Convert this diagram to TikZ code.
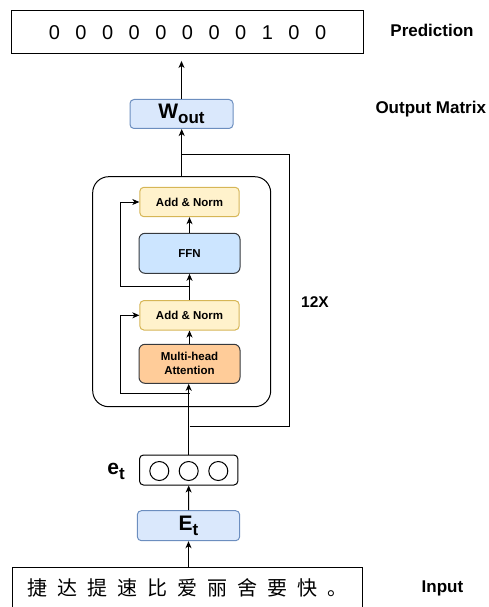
\documentclass[tikz,border=0pt]{standalone}
\usepackage{fontspec}
\setmainfont{Liberation Sans}
\newfontfamily\cjkfont[LetterSpace=50]{Noto Sans CJK SC}
\usepackage{xcolor}
\usetikzlibrary{arrows.meta,positioning,calc}

\definecolor{matFill}{HTML}{DAE8FC}
\definecolor{matDraw}{HTML}{6C8EBF}
\definecolor{normFill}{HTML}{FFF2CC}
\definecolor{normDraw}{HTML}{D6B656}
\definecolor{ffnFill}{HTML}{CCE5FF}
\definecolor{attFill}{HTML}{FFCC99}
\definecolor{darkDraw}{HTML}{36393D}

\newcommand{\bigsub}[2]{#1\raisebox{-5bp}{\fontsize{17bp}{17bp}\selectfont #2}}

\begin{document}
\begin{tikzpicture}[
    x=1bp, y=-1bp,
    line width=1bp,
    every node/.style={inner sep=0pt},
    sidelbl/.style={font=\fontsize{17bp}{20bp}\selectfont\bfseries},
    bigtxt/.style={font=\fontsize{21bp}{24bp}\selectfont\bfseries},
    smalltxt/.style={font=\fontsize{11.5bp}{14bp}\selectfont\bfseries, align=center},
    seqbox/.style={rectangle, draw=black, minimum width=351bp, minimum height=42.5bp},
    matbox/.style={rectangle, rounded corners=4bp, draw=matDraw, fill=matFill,
      minimum width=103bp, minimum height=29bp, bigtxt},
    normbox/.style={rectangle, rounded corners=4bp, draw=normDraw, fill=normFill,
      minimum width=99.3bp, minimum height=29.4bp, smalltxt},
    layerbox/.style={rectangle, rounded corners=6bp, draw=darkDraw,
      minimum width=101bp, minimum height=40bp, smalltxt},
    arr/.style={-{Stealth[length=7bp,width=6bp,inset=2bp]}}
  ]
    \useasboundingbox (0,0) rectangle (489,607);

    % ── Output (top) ──
    \node[seqbox] (pred) at (187.5,32.2)
      {\fontsize{20bp}{24bp}\selectfont\addfontfeature{LetterSpace=77.5}00000000100\hspace{-15.5bp}};
    \node[matbox] (wout) at (181.5,114) {\bigsub{W}{out}};

    \draw[arr, shorten >=7bp] (wout.north) -- (wout.north |- pred.south);

    % ── Encoder block ──
    \node[rectangle, rounded corners=16bp, draw, minimum width=178bp, minimum height=230bp]
      (block) at (181.7,291.7) {};
    \node[normbox] (an1) at (189.5,202) {Add \& Norm};
    \node[layerbox, fill=ffnFill] (ffn) at (189.5,253.3) {FFN};
    \node[normbox] (an2) at (189.5,315.3) {Add \& Norm};
    \node[layerbox, fill=attFill, minimum height=39bp] (mha) at (189.5,363.8)
      {Multi-head\\Attention};

    \draw[arr] (mha.north) -- (an2.south);
    \draw[arr] (an2.north) -- (ffn.south);
    \draw[arr] (ffn.north) -- (an1.south);
    \draw[arr] (block.north) -- (block.north |- wout.south);

    % residual paths
    \coordinate (lx) at (120.7,0);
    \coordinate (r1) at (189.5,393.3);
    \coordinate (r2) at (189.5,286);
    \draw[arr] (r1) -- (r1 -| lx) |- (an2.west);
    \draw[arr] (r2) -- (r2 -| lx) |- (an1.west);

    % repeat loop
    \coordinate (lpbot) at (189.5,426);
    \coordinate (lpright) at (289,0);
    \coordinate (lptop) at (181.7,155);
    \draw (lpbot) -- (lpbot -| lpright) -- (lpright |- lptop) -- (lptop);

    % ── Input (bottom) ──
    \node[seqbox, minimum width=350bp, minimum height=41bp] (inseq) at (187.7,587.5)
      {\cjkfont\fontsize{20bp}{24bp}\selectfont 捷达提速比爱丽舍要快。\hspace{-10bp}};
    \node[matbox, minimum width=102.3bp, minimum height=30bp] (emb) at (188.5,525.7) {\bigsub{E}{t}};
    \node[rectangle, rounded corners=4bp, draw, minimum width=98.4bp, minimum height=30bp]
      (vec) at (188.7,470) {};
    \foreach \i/\cx in {1/159.3, 2/188.7, 3/218.3}
      \node[circle, draw, minimum size=19bp] (c\i) at (\cx,471) {};
    \node[bigtxt] (veclbl) at (116,471) {\bigsub{e}{t}};

    \draw[arr] (inseq.north -| emb) -- (emb.south);
    \draw[arr] (emb.north) -- (vec.south);
    \draw[arr, line width=1.3bp] (vec.north) -- (vec.north |- mha.south);

    % ── Side labels ──
    \node[sidelbl] (predlbl) at (432,30.5) {Prediction};
    \node[sidelbl, anchor=west] (woutlbl) at (375,109) {Output Matrix};
    \node[sidelbl, font=\fontsize{15.5bp}{18bp}\selectfont\bfseries, anchor=west]
      (looplbl) at (300.7,301.7) {12X};
    \node[sidelbl] (inlbl) at (442.5,588) {Input};

  \end{tikzpicture}
\end{document}
